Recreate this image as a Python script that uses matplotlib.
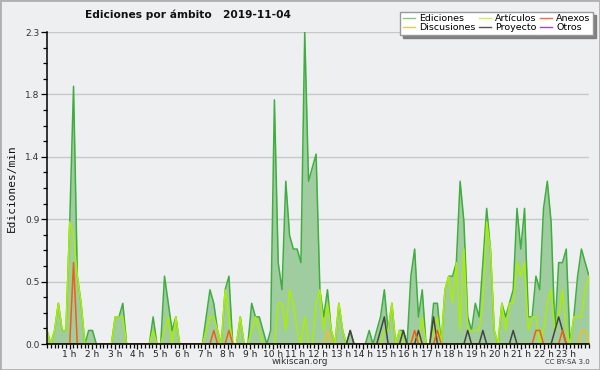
import numpy as np
import matplotlib
matplotlib.use("Agg")
import matplotlib.pyplot as plt
from matplotlib.lines import Line2D
from matplotlib.patches import Rectangle

# valores cada 10 minutos (144 puntos en el día)
ediciones = [0.1, 0.0, 0.1, 0.3, 0.1, 0.1, 0.9, 1.9, 0.5, 0.3, 0.0, 0.1, 0.1, 0.0, 0.0, 0.0,
             0.0, 0.0, 0.2, 0.2, 0.3, 0.0, 0.0, 0.0, 0.0, 0.0, 0.0, 0.0, 0.2, 0.0, 0.0, 0.5,
             0.3, 0.1, 0.2, 0.0, 0.0, 0.0, 0.0, 0.0, 0.0, 0.0, 0.2, 0.4, 0.3, 0.1, 0.0, 0.4,
             0.5, 0.0, 0.0, 0.2, 0.0, 0.0, 0.3, 0.2, 0.2, 0.1, 0.0, 0.1, 1.8, 0.6, 0.4, 1.2,
             0.8, 0.7, 0.7, 0.6, 2.3, 1.2, 1.3, 1.4, 0.4, 0.2, 0.4, 0.1, 0.0, 0.3, 0.1, 0.0,
             0.1, 0.0, 0.0, 0.0, 0.0, 0.1, 0.0, 0.1, 0.2, 0.4, 0.1, 0.3, 0.0, 0.1, 0.1, 0.0,
             0.5, 0.7, 0.2, 0.4, 0.0, 0.0, 0.3, 0.3, 0.0, 0.4, 0.5, 0.5, 0.6, 1.2, 0.9, 0.2,
             0.1, 0.3, 0.2, 0.6, 1.0, 0.7, 0.1, 0.0, 0.3, 0.2, 0.3, 0.4, 1.0, 0.7, 1.0, 0.2,
             0.2, 0.5, 0.4, 1.0, 1.2, 0.9, 0.1, 0.6, 0.6, 0.7, 0.0, 0.2, 0.5, 0.7, 0.6, 0.5]
articulos = [0.1, 0.0, 0.1, 0.3, 0.1, 0.1, 0.9, 0.8, 0.5, 0.3, 0.0, 0.0, 0.0, 0.0, 0.0, 0.0,
             0.0, 0.0, 0.2, 0.2, 0.2, 0.0, 0.0, 0.0, 0.0, 0.0, 0.0, 0.0, 0.1, 0.0, 0.0, 0.1,
             0.2, 0.0, 0.2, 0.0, 0.0, 0.0, 0.0, 0.0, 0.0, 0.0, 0.1, 0.2, 0.2, 0.1, 0.0, 0.4,
             0.2, 0.0, 0.0, 0.2, 0.0, 0.0, 0.1, 0.2, 0.1, 0.0, 0.0, 0.0, 0.0, 0.3, 0.3, 0.1,
             0.4, 0.3, 0.1, 0.0, 0.2, 0.0, 0.0, 0.3, 0.4, 0.1, 0.3, 0.1, 0.0, 0.3, 0.1, 0.0,
             0.0, 0.0, 0.0, 0.0, 0.0, 0.0, 0.0, 0.0, 0.0, 0.1, 0.1, 0.3, 0.0, 0.1, 0.0, 0.0,
             0.0, 0.0, 0.0, 0.2, 0.0, 0.0, 0.1, 0.2, 0.0, 0.4, 0.5, 0.3, 0.6, 0.1, 0.7, 0.1,
             0.1, 0.1, 0.1, 0.3, 0.9, 0.7, 0.1, 0.0, 0.3, 0.1, 0.3, 0.3, 0.6, 0.5, 0.6, 0.1,
             0.2, 0.2, 0.0, 0.1, 0.3, 0.4, 0.1, 0.2, 0.4, 0.1, 0.0, 0.2, 0.2, 0.2, 0.4, 0.5]
anexos = [0.0] * 144
for i, v in [(7, 0.6), (44, 0.1), (48, 0.1), (97, 0.1), (103, 0.1), (129, 0.1), (130, 0.1), (136, 0.1)]:
    anexos[i] = v
discusiones = [0.0] * 144
for i, v in [(74, 0.1), (141, 0.1), (142, 0.1)]:
    discusiones[i] = v
proyecto = [0.0] * 144
for i, v in [(80, 0.1), (88, 0.1), (89, 0.2), (94, 0.1), (98, 0.1), (102, 0.2), (111, 0.1),
             (115, 0.1), (123, 0.1), (134, 0.1), (135, 0.2), (136, 0.1)]:
    proyecto[i] = v
otros = [0.0] * 144

horas = list(range(1, 24))
etiquetas_h = ["%d h" % h for h in horas]
yticks = np.linspace(0, 2.3, 6)
yetiquetas = ["%.1f" % v for v in yticks]

x = np.linspace(0, 24, 144)
bg = "#eeeff1"

fig = plt.figure(figsize=(6, 3.7), dpi=100, facecolor=bg)
ax = fig.add_axes([47/600, 26/370, 542/600, 312/370])
ax.set_facecolor(bg)

ax.fill_between(x, ediciones, color="#a0cda0", lw=0, zorder=1)
ax.plot(x, otros, color="#9933ee", lw=1, zorder=1.5)
ax.plot(x, ediciones, color="#3fae3f", lw=1.1, zorder=2)
ax.plot(x, articulos, color="#aaee00", lw=1.1, zorder=2)
ax.plot(x, discusiones, color="#f0c020", lw=1.1, zorder=2)
ax.plot(x, proyecto, color="#444444", lw=1.1, zorder=2)
ax.plot(x, anexos, color="#f06010", lw=1.1, zorder=2)

ax.set_xlim(0, 24)
ax.set_ylim(0, 2.3)
ax.set_xticks(horas)
ax.set_xticklabels(etiquetas_h, fontsize=6.5, color="#222222")
ax.set_xticks(np.arange(0, 24.01, 1/6), minor=True)
ax.set_yticks(yticks)
ax.set_yticklabels(yetiquetas, fontsize=6.5, color="#333333")
ax.set_yticks(np.linspace(0, 2.3, 21), minor=True)
ax.tick_params(axis="both", which="major", length=4, width=0.9, pad=1.5)
ax.tick_params(axis="x", which="major", length=3.5, pad=0.5)
ax.tick_params(axis="both", which="minor", length=3, width=0.9)
ax.yaxis.grid(True, color="#c8c8c8", lw=1)
ax.set_axisbelow(True)
for s in ["top", "right"]:
    ax.spines[s].set_visible(False)
for s in ["left", "bottom"]:
    ax.spines[s].set_linewidth(1.1)
    ax.spines[s].set_zorder(3)

titulo = fig.text(85/600, 1 - 15/370, "Ediciones por ámbito   2019-11-04", fontsize=8.8,
                  fontweight="bold", ha="left", va="center", color="#111111")
# ajustar el tamaño para que el título ocupe ~207 px como en el original
fig.canvas.draw()
w = titulo.get_window_extent().width
titulo.set_fontsize(8.8 * 207 / w)

fig.text(12/600, 1 - 188/370, "Ediciones/min", rotation=90, fontsize=8,
         family="DejaVu Sans Mono", ha="center", va="center", color="#111111")
fig.text(300/600, 1 - 362/370, "wikiscan.org", fontsize=6.5, ha="center", va="center", color="#333333")
fig.text(590/600, 1 - 362/370, "CC BY-SA 3.0", fontsize=5, ha="right", va="center", color="#333333")

handles = [Line2D([], [], color="#80cc80", lw=1), Line2D([], [], color="#f0c840", lw=1),
           Line2D([], [], color="#ccf050", lw=1), Line2D([], [], color="#555555", lw=1),
           Line2D([], [], color="#f07040", lw=1), Line2D([], [], color="#9944ee", lw=1)]
nombres = ["Ediciones", "Discusiones", "Artículos", "Proyecto", "Anexos", "Otros"]
fig.legend(handles, nombres, loc="upper right", bbox_to_anchor=(593/600, 1 - 12/370),
           ncol=3, fontsize=6.8, frameon=True, fancybox=False, edgecolor="#999999",
           framealpha=1, shadow={"color": "#808080", "alpha": 1}, borderpad=0.25,
           handlelength=1.3, handletextpad=0.4, columnspacing=0.4, labelspacing=0.0,
           borderaxespad=0)

fig.patches.append(Rectangle((0, 0), 1, 1, transform=fig.transFigure, fill=False,
                             edgecolor="#b0b0b0", lw=2))

fig.savefig("out.png", dpi=100, facecolor=bg)
